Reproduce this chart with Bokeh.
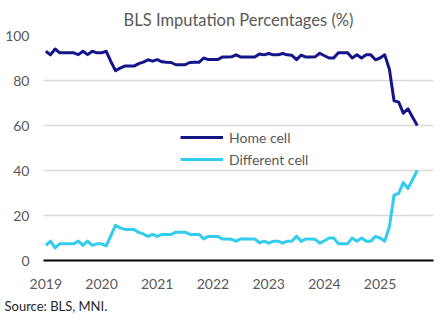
import numpy as np
from bokeh.plotting import figure
from bokeh.models import Range1d, FixedTicker, Title, Legend, LegendItem
from bokeh.embed import file_html
from bokeh.resources import INLINE

# Monthly data, Jan 2019 - Sep 2025
year_labels = ["2019", "2020", "2021", "2022", "2023", "2024", "2025"]

home_cell = [
    93.0, 91.4, 94.0, 92.3, 92.3, 92.3, 92.3, 91.5, 93.0, 91.5, 93.0, 92.3,   # 2019
    92.3, 93.0, 88.5, 84.4, 85.5, 86.4, 86.4, 86.4, 87.5, 88.2, 89.2, 88.6,   # 2020
    89.3, 88.3, 88.1, 88.0, 87.0, 87.0, 87.0, 88.0, 88.1, 88.1, 90.0, 89.3,   # 2021
    89.3, 89.3, 90.4, 90.4, 90.5, 91.4, 90.4, 90.4, 90.4, 90.4, 91.8, 91.4,   # 2022
    92.0, 91.4, 91.4, 92.0, 91.4, 91.2, 89.3, 91.3, 90.4, 90.4, 90.5, 92.1,   # 2023
    91.0, 90.0, 90.0, 92.3, 92.3, 92.3, 90.0, 91.4, 90.0, 91.4, 91.4, 89.2,   # 2024
    90.0, 91.4, 85.0, 71.0, 70.4, 65.5, 67.4, 63.7, 60.0,                     # 2025
]

different_cell = [
    6.7, 8.6, 5.6, 7.4, 7.4, 7.4, 7.4, 8.6, 6.7, 8.6, 6.7, 7.4,     # 2019
    7.4, 6.5, 11.0, 15.6, 14.5, 13.8, 13.8, 13.8, 12.5, 11.8, 10.7, 11.6,  # 2020
    10.7, 11.6, 11.6, 11.6, 12.6, 12.6, 12.6, 11.6, 11.6, 11.6, 9.6, 10.7,  # 2021
    10.7, 10.7, 9.6, 9.6, 9.4, 8.6, 9.6, 9.6, 9.6, 9.6, 7.9, 8.6,   # 2022
    7.7, 8.6, 8.6, 7.7, 8.6, 8.6, 10.8, 8.5, 9.6, 9.6, 9.4, 7.7,    # 2023
    8.8, 10.0, 10.0, 7.5, 7.5, 7.5, 10.0, 8.6, 10.0, 8.6, 8.6, 10.7,  # 2024
    10.0, 8.6, 15.0, 29.0, 29.8, 34.6, 32.0, 36.0, 40.0,            # 2025
]

months = list(range(len(home_cell)))
year_ticks = [12 * i for i in range(len(year_labels))]

FONT = "Lato"
GREY = "#595959"

p = figure(width=445, height=323, output_backend="svg", toolbar_location=None,
           x_range=Range1d(-0.5, 83.5), y_range=Range1d(0, 100),
           min_border_left=43, min_border_right=12, min_border_top=35,
           min_border_bottom=63)
p.outline_line_color = None
p.background_fill_color = "white"
p.border_fill_color = "white"

r_home = p.line(months, home_cell, line_color="#15158A", line_width=3, line_join="round")
r_diff = p.line(months, different_cell, line_color="#33CCEE", line_width=3, line_join="round")

# axes
p.yaxis.ticker = FixedTicker(ticks=[0, 20, 40, 60, 80, 100])
p.yaxis.axis_line_color = None
p.yaxis.major_tick_line_color = None
p.yaxis.minor_tick_line_color = None
p.yaxis.major_label_text_font = FONT
p.yaxis.major_label_text_font_size = "14px"
p.yaxis.major_label_text_color = GREY
p.yaxis.major_label_standoff = 8

p.xaxis.ticker = FixedTicker(ticks=year_ticks)
p.xaxis.major_label_overrides = {t: l for t, l in zip(year_ticks, year_labels)}
p.xaxis.axis_line_color = "black"
p.xaxis.axis_line_width = 2
p.xaxis.major_tick_line_color = None
p.xaxis.minor_tick_line_color = None
p.xaxis.major_label_text_font = FONT
p.xaxis.major_label_text_font_size = "14px"
p.xaxis.major_label_text_color = GREY
p.xaxis.major_label_standoff = 12

p.xgrid.grid_line_color = None
p.ygrid.ticker = FixedTicker(ticks=[20, 40, 60, 80, 100])
p.ygrid.grid_line_color = "#D9D9D9"
p.ygrid.grid_line_width = 1.5

legend = Legend(items=[LegendItem(label="Home cell", renderers=[r_home]),
                       LegendItem(label="Different cell", renderers=[r_diff])],
                location=(137, 91))
legend.label_text_font = FONT
legend.label_text_font_size = "14px"
legend.label_text_color = GREY
legend.glyph_width = 43
legend.glyph_height = 20
legend.label_height = 20
legend.spacing = 2
legend.padding = 0
legend.margin = 0
legend.label_standoff = 6
legend.border_line_alpha = 0
legend.background_fill_alpha = 0
p.add_layout(legend)

title = Title(text="BLS Imputation Percentages (%)", align="center", offset=-9,
              text_font=FONT, text_font_size="16.5px", text_font_style="normal",
              text_color=GREY, standoff=12)
p.add_layout(title, "above")

source = Title(text="Source: BLS, MNI.", align="left", offset=-39,
               text_font=FONT, text_font_size="13px", text_font_style="normal",
               text_color="#262626", standoff=9)
p.add_layout(source, "below")

open("out.html", "w").write(file_html(p, INLINE))
